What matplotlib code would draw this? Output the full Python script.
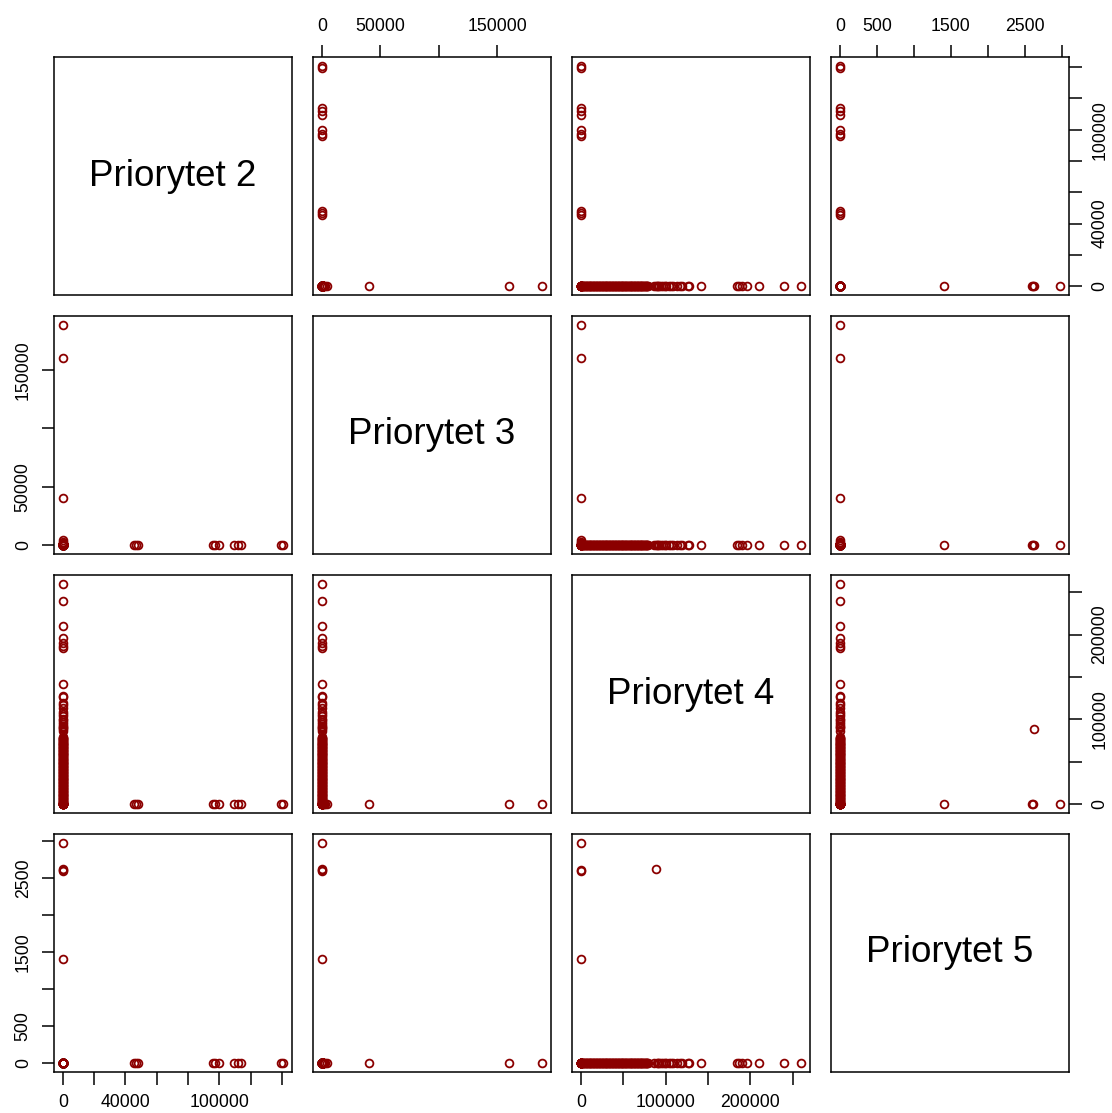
import matplotlib.pyplot as plt
import numpy as np

plt.rcParams['font.family'] = ['Liberation Sans', 'DejaVu Sans']

names = ['Priorytet 2', 'Priorytet 3', 'Priorytet 4', 'Priorytet 5']

# rows with only "Priorytet 2" filled in
p2_values = [45800, 46900, 48000, 95800, 97500, 99800, 109500, 111800, 114000, 139200, 140800]

# rows with only "Priorytet 3" filled in
p3_values = [188500, 160000, 40000, 4200, 2800, 1500, 600]

# rows with only "Priorytet 4" filled in (bulk of the data, then the long tail)
p4_dense = [0, 300, 900, 1500, 2200, 2800, 3500, 4300, 4900, 5600, 6300, 7000, 7600,
            8400, 9100, 9700, 10400, 11200, 11800, 12500, 13300, 13900, 14600, 15400,
            16000, 16700, 17500, 18100, 18800, 19600, 20200, 20900, 21700, 22300,
            23000, 23800, 24400, 25100, 25900, 26500, 27200, 28000, 28600, 29300,
            30100, 30700, 31400, 32200, 32800, 33500, 34300, 34900, 35600, 36400,
            37000, 37700, 38500, 39100, 39800, 40600, 41200, 41900, 42700, 43300,
            44000, 44800, 45400, 46100, 46900, 47500, 48200, 49000, 49600, 50300,
            51100, 51700, 52400, 53200, 53800, 54500, 55300, 55900, 56600, 57400,
            58000, 58700, 59500, 60100, 60800, 61600, 62200, 62900, 63700, 64300,
            65000, 65800, 66400, 67100, 67900, 68500, 69200, 70000, 70600, 71300,
            72100, 72700, 73400, 74200, 74800, 75500, 76300, 76900, 77600, 78400, 79000]
p4_tail = [86500, 89500, 91000, 92500, 94500, 96500, 99000, 101000, 103500, 106000,
           108500, 113000, 116500, 119500, 126000, 127500, 142000, 184500, 187000,
           190500, 195500, 209500, 240000, 259800]

# rows with "Priorytet 5" filled in (and their "Priorytet 4" value)
p5_p4 = [0, 0, 0, 0, 88500]
p5_values = [2977, 2600, 2610, 1410, 2620]

# axis ticks and which labels R keeps after dropping overlapping ones
p2_ticks = [0, 20000, 40000, 60000, 80000, 100000, 120000, 140000]
p2_labels = ['0', '', '40000', '', '', '100000', '', '']
p3_ticks = [0, 50000, 100000, 150000]
p3_labels = ['0', '50000', '', '150000']
p4_ticks = [0, 50000, 100000, 150000, 200000, 250000]
p4_labels = ['0', '', '100000', '', '200000', '']
p5_ticks = [0, 500, 1000, 1500, 2000, 2500, 3000]
p5_labels = ['0', '500', '', '1500', '', '2500', '']

rows = []
for v in p2_values:
    rows.append((v, 0, 0, 0))
for v in p3_values:
    rows.append((0, v, 0, 0))
for v in p4_dense + p4_tail:
    rows.append((0, 0, v, 0))
for a, b in zip(p5_p4, p5_values):
    rows.append((0, 0, a, b))
data = np.array(rows, dtype=float)

ticks = [p2_ticks, p3_ticks, p4_ticks, p5_ticks]
labels = [p2_labels, p3_labels, p4_labels, p5_labels]

lims = []
for k in range(4):
    mn, mx = data[:, k].min(), data[:, k].max()
    r = mx - mn
    lims.append((mn - 0.04 * r, mx + 0.04 * r))

W, H = 1112, 1113
fig = plt.figure(figsize=(W / 100, H / 100), dpi=100)

for i in range(4):
    for j in range(4):
        ax = fig.add_axes([(54 + 259 * j) / W, 1 - (57 + 259 * i + 238) / H, 238 / W, 238 / H])
        ax.set_xlim(lims[j])
        ax.set_ylim(lims[i])
        for s in ax.spines.values():
            s.set_linewidth(1.1)
            s.set_color('black')
        ax.set_xticks([])
        ax.set_yticks([])
        ax.tick_params(direction='out', length=9, width=1.1, pad=7, labelsize=12.7, colors='black')

        if i == j:
            ax.text(0.5, 0.5, names[i], transform=ax.transAxes, ha='center', va='center', fontsize=26.5)
        else:
            ax.plot(data[:, j], data[:, i], 'o', ls='none', mfc='none', mec='#8B0000', ms=5.6, mew=1.3)

        if i == 0 and j % 2 == 1:
            ax.xaxis.tick_top()
            ax.set_xticks(ticks[j], labels[j])
        if i == 3 and j % 2 == 0:
            ax.set_xticks(ticks[j], labels[j])
        if j == 0 and i % 2 == 1:
            ax.set_yticks(ticks[i], labels[i], rotation=90, va='center')
        if j == 3 and i % 2 == 0:
            ax.yaxis.tick_right()
            ax.set_yticks(ticks[i], labels[i], rotation=90, va='center')

fig.savefig('out.png', dpi=100)
